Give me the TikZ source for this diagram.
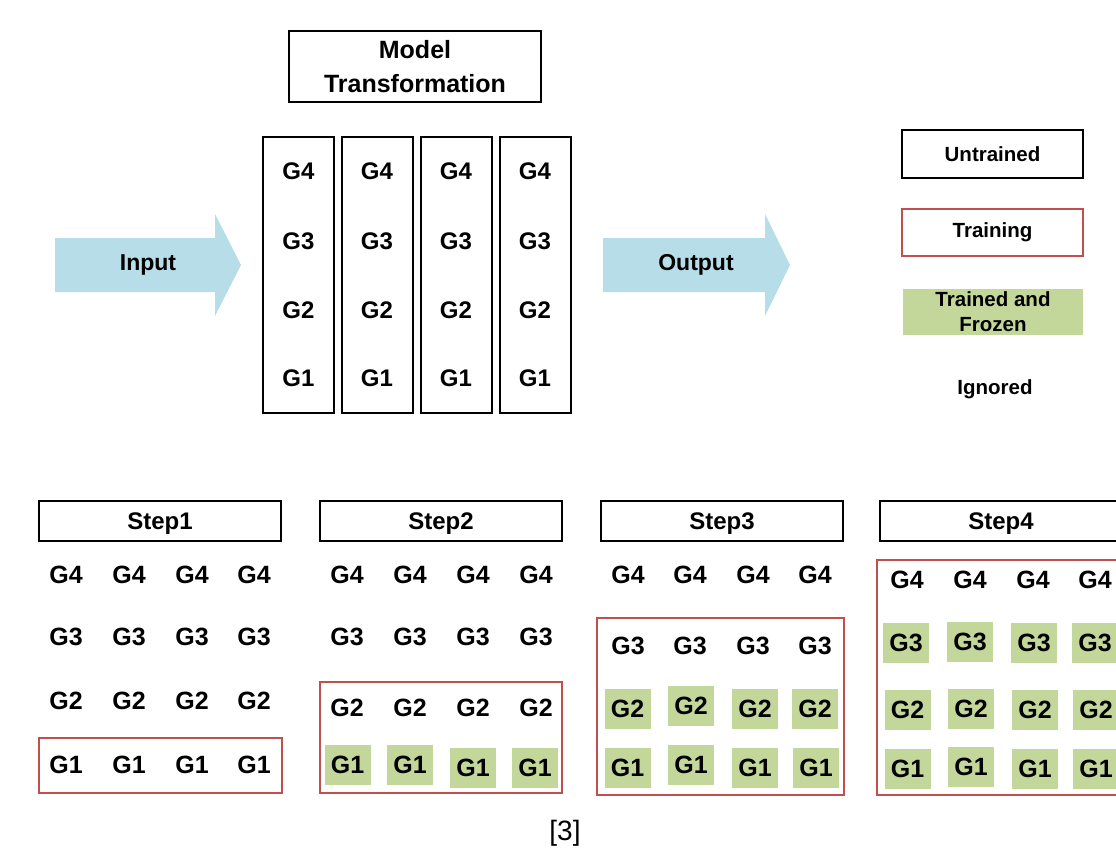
\documentclass[tikz,border=0pt]{standalone}
\usepackage{fontspec}
\setmainfont{Liberation Sans}
\definecolor{trainred}{RGB}{192,80,77}
\definecolor{frozengreen}{RGB}{196,215,155}
\definecolor{arrowblue}{RGB}{183,222,232}
\begin{document}
\begin{tikzpicture}[x=1pt,y=-1pt,
  gtop/.style={font=\fontsize{24}{26}\selectfont\bfseries, inner sep=0pt},
  gbot/.style={font=\fontsize{25}{27}\selectfont\bfseries, inner sep=0pt},
  frozen/.style={gbot, fill=frozengreen, minimum width=46pt, minimum height=40pt},
  colbox/.style={draw=black, line width=2pt, minimum width=71pt, minimum height=276pt, inner sep=0pt},
  hdr/.style={draw=black, line width=2pt, minimum width=242pt, minimum height=40pt, inner sep=0pt, text depth=0pt, font=\fontsize{24}{26}\selectfont\bfseries},
  trainframe/.style={draw=trainred, line width=2pt},
  legtxt/.style={font=\fontsize{20.5}{25}\selectfont\bfseries, align=center, inner sep=0pt},
  arrowtxt/.style={font=\fontsize{23}{25}\selectfont\bfseries, inner sep=0pt},
]
\clip (0,0) rectangle (1116,857);
\fill[white] (0,0) rectangle (1116,857);

% Title
\node[draw=black, line width=2pt, minimum width=252pt, minimum height=71pt, align=center,
      font=\fontsize{25}{34}\selectfont\bfseries] (title) at (415,66.5) {Model\\Transformation};

% Columns
\foreach \i/\cx in {1/298.5,2/377,3/456,4/535}{
  \node[colbox] (col\i) at (\cx,274.5) {};
  \node[gtop] (c\i g4) at (\cx,171) {G4};
  \node[gtop] (c\i g3) at (\cx,241) {G3};
  \node[gtop] (c\i g2) at (\cx,310) {G2};
  \node[gtop] (c\i g1) at (\cx,378) {G1};
}

% Arrows
\fill[arrowblue] (55,238) -- (215,238) -- (215,214) -- (241,265) -- (215,316) -- (215,292) -- (55,292) -- cycle;
\node[arrowtxt] (input) at (148,265) {Input};
\fill[arrowblue] (603,238) -- (765,238) -- (765,214) -- (790,265) -- (765,316) -- (765,292) -- (603,292) -- cycle;
\node[arrowtxt] (output) at (696,265) {Output};

% Legend
\node[draw=black, line width=2pt, minimum width=181pt, minimum height=48pt, legtxt] (untrained) at (992.5,154) {Untrained};
\node[draw=trainred, line width=2pt, minimum width=181pt, minimum height=47pt, legtxt] (training) at (992.5,232.5) {Training};
\node[fill=frozengreen, minimum width=180pt, minimum height=46pt, legtxt] (frozenleg) at (993,312) {Trained and\\Frozen};
\node[legtxt] (ignored) at (995,389) {Ignored};

% Step headers
\node[hdr] (step1) at (160,521) {Step1};
\node[hdr] (step2) at (441,521) {Step2};
\node[hdr] (step3) at (722,521) {Step3};
\node[hdr] (step4) at (1001,521) {Step4};

% Step 1
\draw[trainframe] (39,738) rectangle (282,793);
\foreach \j/\cx in {1/66,2/129,3/192,4/254}{
  \node[gbot] (sa\j g4) at (\cx,575) {G4};
  \node[gbot] (sa\j g3) at (\cx,637) {G3};
  \node[gbot] (sa\j g2) at (\cx,701) {G2};
  \node[gbot] (sa\j g1) at (\cx,765) {G1};
}

% Step 2
\draw[trainframe] (320,682) rectangle (562,793);
\foreach \j/\cx in {1/347,2/410,3/473,4/536}{
  \node[gbot] (sb\j g4) at (\cx,575) {G4};
  \node[gbot] (sb\j g3) at (\cx,637) {G3};
  \node[gbot] (sb\j g2) at (\cx,708) {G2};
}
\node[frozen] (sb1g1) at (347.5,765) {G1};
\node[frozen] (sb2g1) at (410,765) {G1};
\node[frozen] (sb3g1) at (473,768) {G1};
\node[frozen] (sb4g1) at (535,768) {G1};

% Step 3
\draw[trainframe] (597,618) rectangle (844,795);
\foreach \j/\cx in {1/628,2/690,3/753,4/815}{
  \node[gbot] (sc\j g4) at (\cx,575) {G4};
  \node[gbot] (sc\j g3) at (\cx,646) {G3};
}
\node[frozen] (sc1g2) at (627.5,709) {G2};
\node[frozen] (sc2g2) at (691,706) {G2};
\node[frozen] (sc3g2) at (755,709) {G2};
\node[frozen] (sc4g2) at (815,709) {G2};
\node[frozen] (sc1g1) at (627.5,768) {G1};
\node[frozen] (sc2g1) at (691,765) {G1};
\node[frozen] (sc3g1) at (755,768) {G1};
\node[frozen] (sc4g1) at (816,768) {G1};

% Step 4
\draw[trainframe] (877,560) rectangle (1130,795);
\foreach \j/\cx in {1/907,2/970,3/1033,4/1095}{
  \node[gbot] (sd\j g4) at (\cx,580) {G4};
}
\node[frozen] (sd1g3) at (906,643) {G3};
\node[frozen] (sd2g3) at (970,642) {G3};
\node[frozen] (sd3g3) at (1034,643) {G3};
\node[frozen] (sd4g3) at (1095,643) {G3};
\node[frozen] (sd1g2) at (907.5,710) {G2};
\node[frozen] (sd2g2) at (971,709) {G2};
\node[frozen] (sd3g2) at (1035,710) {G2};
\node[frozen] (sd4g2) at (1096,710) {G2};
\node[frozen] (sd1g1) at (907.5,769) {G1};
\node[frozen] (sd2g1) at (971,767) {G1};
\node[frozen] (sd3g1) at (1035,769) {G1};
\node[frozen] (sd4g1) at (1096,769) {G1};

% Caption
\node[font=\fontsize{28}{30}\selectfont, inner sep=0pt] (cap) at (565,833) {[3]};
\end{tikzpicture}
\end{document}
